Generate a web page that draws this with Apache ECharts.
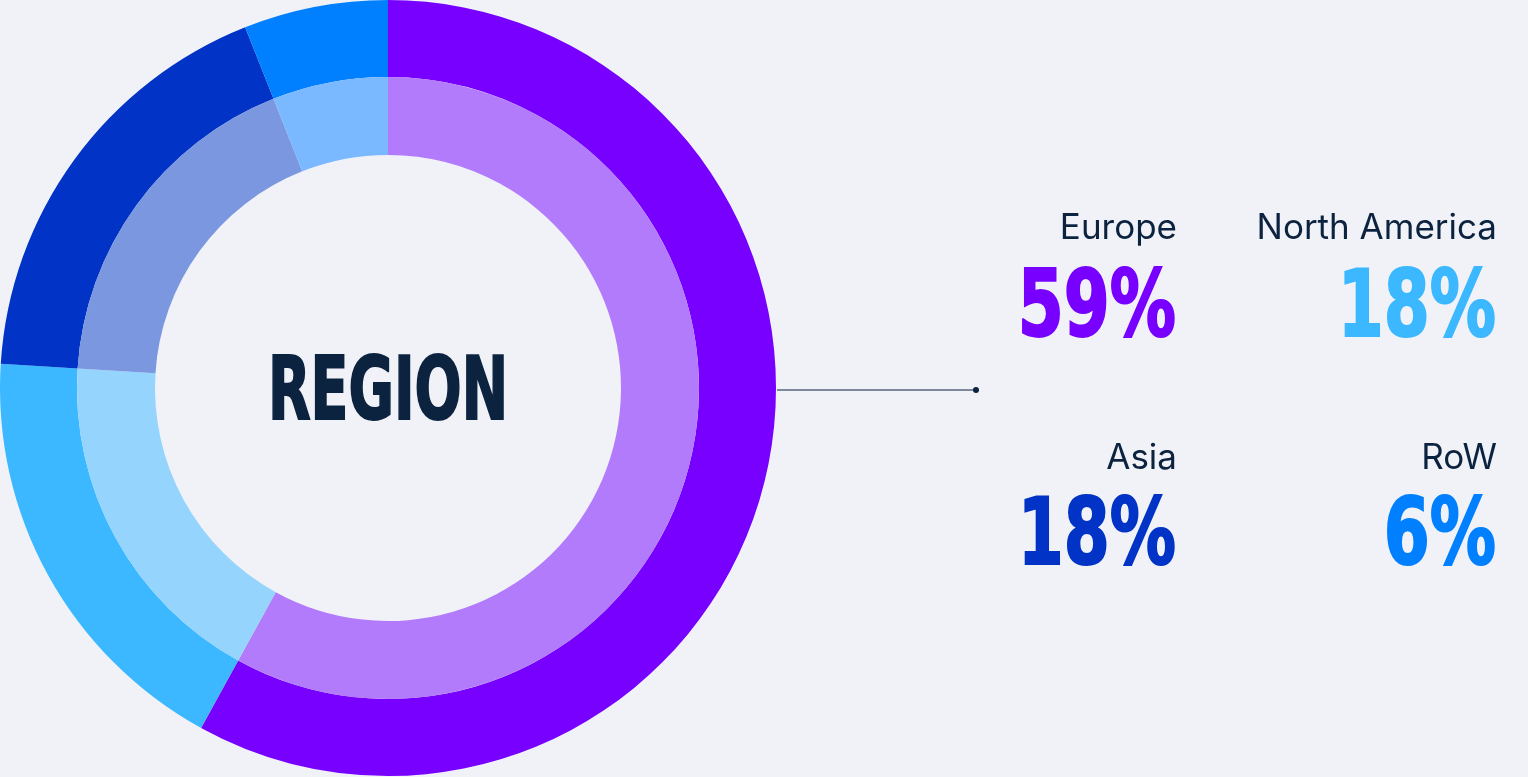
<!DOCTYPE html>
<html>
<head>
<meta charset="utf-8">
<script src="https://cdn.jsdelivr.net/npm/echarts@6/dist/echarts.min.js"></script>
<style>
  html, body { margin: 0; padding: 0; background: #f1f2f8; }
  #chart { width: 1528px; height: 777px; }
</style>
</head>
<body>
<div id="chart"></div>
<script>
// ---- data ----
const regions = ['Europe', 'North America', 'Asia', 'RoW'];
const sliceShares = [58, 18, 18, 6];            // slice sizes as drawn (arc angles)
const shareLabels = ['59%', '18%', '18%', '6%']; // printed figures
const centerTitle = 'REGION';
const outerColors = ['#7700ff', '#3bb8ff', '#0033c6', '#0080ff'];
const innerColors = ['#b27bfc', '#95d4fc', '#7b97df', '#7ab8ff'];

// ---- layout ----
const BG = '#f1f2f8';
const NAVY = '#0c2340';
const CX = 388, CY = 388;
const R_OUT = 388, R_MID = 311, R_IN = 233;
const colRight = [1177, 1497];
const labelY = [228, 458];
const numberY = [312, 540];
const HEAVY = '"Liberation Sans Narrow", "DejaVu Sans Condensed", "DejaVu Sans", sans-serif';
const NUM_FONT = 'bold 93px ' + HEAVY;
const NUM_SCALE = 0.79;

const chart = echarts.init(document.getElementById('chart'), null, { renderer: 'canvas' });

const outerData = regions.map((r, i) => ({ name: r, value: sliceShares[i], itemStyle: { color: outerColors[i] } }));
const innerData = regions.map((r, i) => ({ name: r, value: sliceShares[i], itemStyle: { color: innerColors[i] } }));

const graphics = [];
// center title
graphics.push({
  type: 'text', x: CX, y: CY + 8, scaleX: 0.7, silent: true,
  style: { text: centerTitle, font: 'bold 88px ' + HEAVY,
           fill: NAVY, stroke: NAVY, lineWidth: 2,
           align: 'center', verticalAlign: 'middle', textAlign: 'center', textVerticalAlign: 'middle' }
});
// connector
graphics.push({
  type: 'line', silent: true,
  shape: { x1: CX + R_OUT + 1, y1: CY + 2, x2: 975, y2: CY + 2 },
  style: { stroke: '#7d889b', lineWidth: 2 }
});
graphics.push({
  type: 'circle', silent: true,
  shape: { cx: 976, cy: CY + 2, r: 3 },
  style: { fill: NAVY }
});
// legend blocks
regions.forEach((r, i) => {
  const col = i % 2, row = Math.floor(i / 2);
  graphics.push({
    type: 'text', x: colRight[col], y: labelY[row], silent: true,
    style: { text: r, font: '400 35px Inter, "Noto Sans", sans-serif', fill: NAVY,
             align: 'right', verticalAlign: 'middle', textAlign: 'right', textVerticalAlign: 'middle' }
  });
  graphics.push({
    type: 'text', x: colRight[col] - 1, y: numberY[row], scaleX: NUM_SCALE, silent: true,
    style: { text: shareLabels[i], font: NUM_FONT, fill: outerColors[i], stroke: outerColors[i], lineWidth: 2,
             align: 'right', verticalAlign: 'middle', textAlign: 'right', textVerticalAlign: 'middle' }
  });
});

chart.setOption({
  backgroundColor: BG,
  animation: false,
  series: [
    {
      type: 'pie', silent: true, center: [CX, CY], radius: [R_MID, R_OUT],
      startAngle: 90, clockwise: true, label: { show: false }, labelLine: { show: false },
      emphasis: { disabled: true }, data: outerData
    },
    {
      type: 'pie', silent: true, center: [CX, CY], radius: [R_IN, R_MID],
      startAngle: 90, clockwise: true, label: { show: false }, labelLine: { show: false },
      emphasis: { disabled: true }, data: innerData
    }
  ],
  graphic: graphics
});
</script>
</body>
</html>
